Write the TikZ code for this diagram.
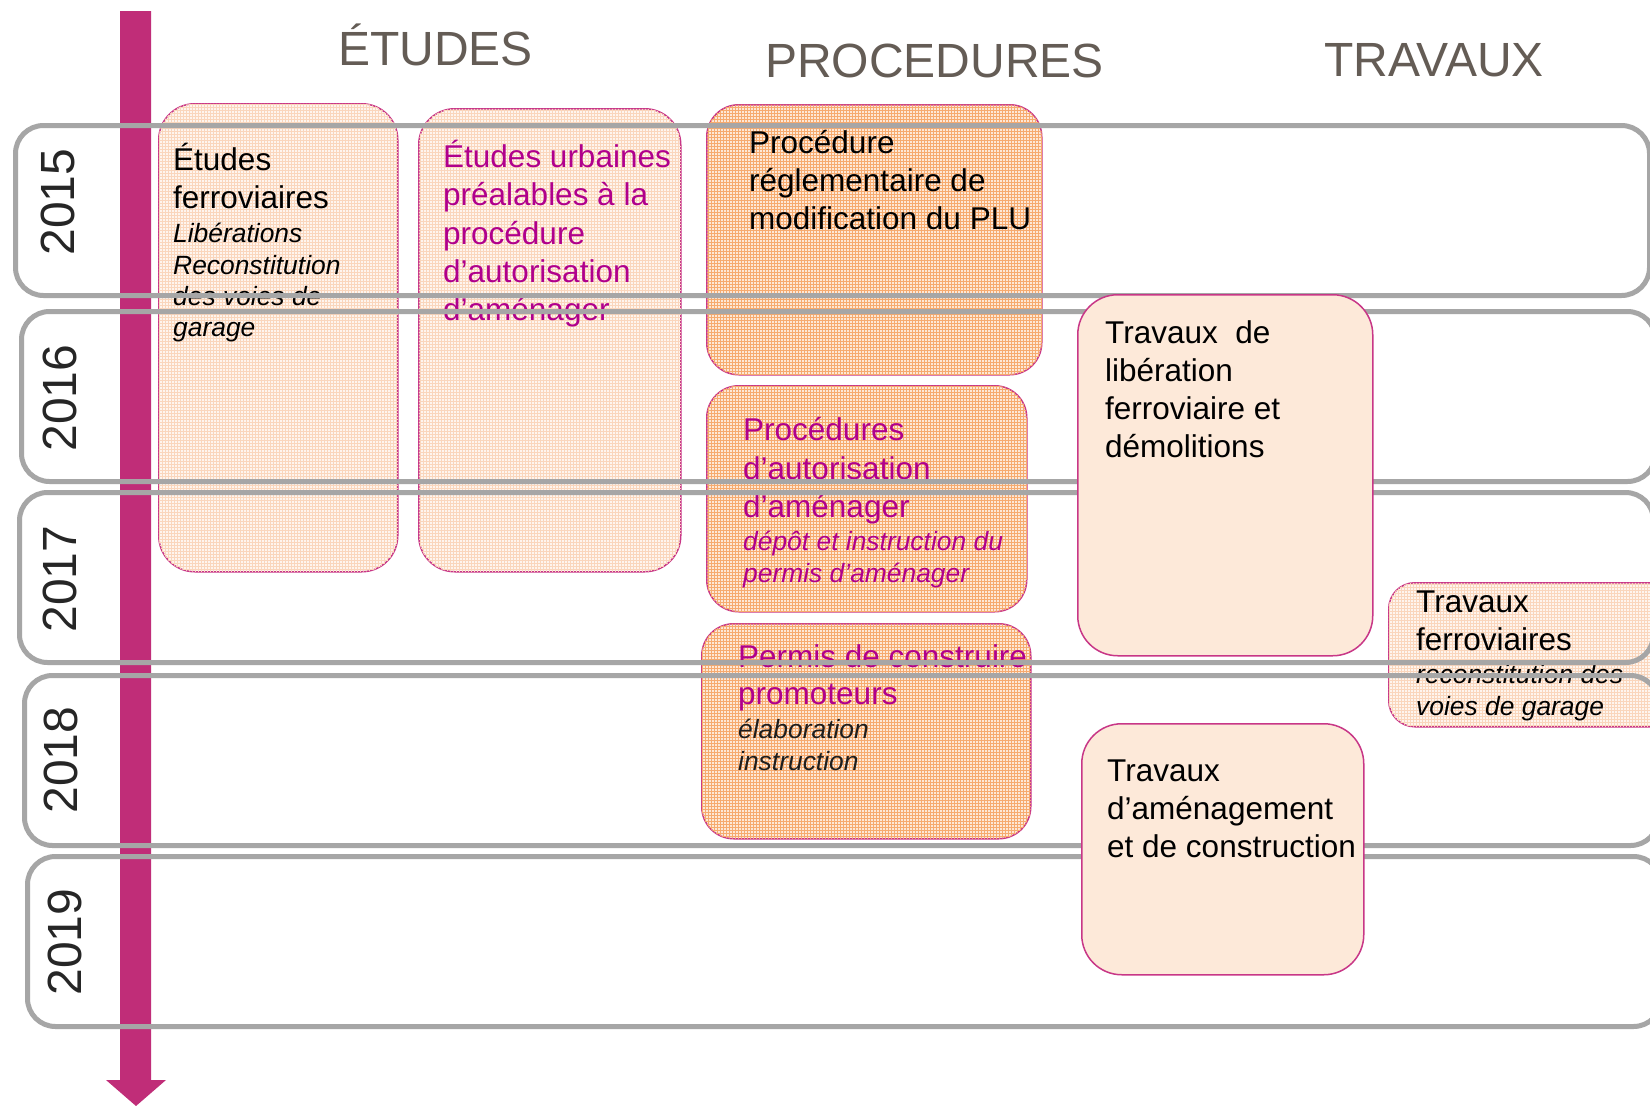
\documentclass[tikz,border=0pt]{standalone}
\usepackage{fontspec}
\setmainfont{Liberation Sans}
\usetikzlibrary{patterns}
\definecolor{arrowc}{RGB}{192,45,120}
\definecolor{bandc}{RGB}{166,166,166}
\definecolor{headc}{RGB}{100,92,85}
\definecolor{yearc}{RGB}{38,38,38}
\definecolor{magt}{RGB}{176,0,140}
\definecolor{boxborder}{RGB}{200,55,135}
\definecolor{solidfill}{RGB}{253,233,217}
\definecolor{lightbase}{RGB}{254,245,238}
\definecolor{lightgrid}{RGB}{250,214,188}
\definecolor{orbase}{RGB}{253,232,214}
\definecolor{orgrid}{RGB}{246,170,110}
\definecolor{darkt}{RGB}{30,30,30}
\begin{document}
\begin{tikzpicture}[x=1pt,y=-1pt,
  boxbase/.style={draw=boxborder, line width=1.5pt, anchor=north west, inner sep=0pt},
  lightbox/.style={boxbase, fill=lightbase, postaction={pattern=grid, pattern color=lightgrid}},
  orbox/.style={boxbase, fill=orbase, postaction={pattern=grid, pattern color=orgrid}},
  solidbox/.style={boxbase, fill=solidfill},
  bandbox/.style={draw=bandc, line width=5pt, rounded corners=28pt, anchor=north west, inner sep=0pt, minimum width=1634pt, minimum height=170pt},
  maintxt/.style={anchor=base west, inner sep=0pt, font=\fontsize{31.5}{38}\selectfont},
  itxt/.style={anchor=base west, inner sep=0pt, font=\fontsize{26.4}{32}\selectfont\itshape},
  headtxt/.style={anchor=base west, inner sep=0pt, text=headc, font=\fontsize{48}{56}\selectfont},
  yeartxt/.style={rotate=90, inner sep=0pt, text=yearc, font=\fontsize{48}{56}\selectfont}
]
\clip (0,0) rectangle (1650,1106);
\fill[white] (0,0) rectangle (1650,1106);

% timeline arrow
\fill[arrowc] (120,11) -- (151,11) -- (151,1080) -- (166,1080) -- (136,1106) -- (106,1080) -- (120,1080) -- cycle;

% patterned boxes
\node[lightbox, rounded corners=36pt, minimum width=239pt, minimum height=468pt] (b1) at (158,103) {};
\node[maintxt] (b1a) at (173,170) {Études};
\node[maintxt] (b1b) at (173,208) {ferroviaires};
\node[itxt] (b1c) at (173,242) {Libérations};
\node[itxt] (b1d) at (173,274) {Reconstitution};
\node[itxt] (b1e) at (173,305) {des voies de};
\node[itxt] (b1f) at (173,336) {garage};

\node[lightbox, rounded corners=36pt, minimum width=262pt, minimum height=463pt] (b2) at (418,108) {};
\node[maintxt, text=magt] (b2a) at (443,167) {Études urbaines};
\node[maintxt, text=magt] (b2b) at (443,205) {préalables à la};
\node[maintxt, text=magt] (b2c) at (443,244) {procédure};
\node[maintxt, text=magt] (b2d) at (443,282) {d’autorisation};
\node[maintxt, text=magt] (b2e) at (443,320) {d’aménager};

\node[orbox, rounded corners=32pt, minimum width=335pt, minimum height=270pt] (b3) at (706,104) {};
\node[maintxt] (b3a) at (749,153) {Procédure};
\node[maintxt] (b3b) at (749,191) {réglementaire de};
\node[maintxt] (b3c) at (749,229) {modification du PLU};

\node[orbox, rounded corners=32pt, minimum width=320pt, minimum height=226pt] (b4) at (706,385) {};
\node[maintxt, text=magt] (b4a) at (743,440) {Procédures};
\node[maintxt, text=magt] (b4b) at (743,479) {d’autorisation};
\node[maintxt, text=magt] (b4c) at (743,517) {d’aménager};
\node[itxt, text=magt] (b4d) at (743,550) {dépôt et instruction du};
\node[itxt, text=magt] (b4e) at (743,582) {permis d’aménager};

\node[orbox, rounded corners=32pt, minimum width=329pt, minimum height=215pt] (b5) at (701,623) {};
\node[maintxt, text=magt] (b5a) at (738,667) {Permis de construire};
\node[maintxt, text=magt] (b5b) at (738,704) {promoteurs};
\node[itxt, text=darkt] (b5c) at (738,738) {élaboration};
\node[itxt, text=darkt] (b5d) at (738,770) {instruction};

\node[lightbox, rounded corners=26pt, minimum width=300pt, minimum height=144pt] (b7) at (1388,582) {};
\node[maintxt] (b7a) at (1416,612) {Travaux};
\node[maintxt] (b7b) at (1416,650) {ferroviaires};
\node[itxt] (b7c) at (1416,683) {reconstitution des};
\node[itxt] (b7d) at (1416,715) {voies de garage};

% year bands
\node[bandbox] (y15) at (13,123) {};
\node[bandbox] (y16) at (19,309) {};
\node[bandbox] (y17) at (17,490) {};
\node[bandbox] (y18) at (22,673) {};
\node[bandbox] (y19) at (25,854) {};

% solid boxes
\node[solidbox, rounded corners=40pt, minimum width=295pt, minimum height=361pt] (b6) at (1077,294) {};
\node[maintxt] (b6a) at (1105,343) {Travaux~ de};
\node[maintxt] (b6b) at (1105,381) {libération};
\node[maintxt] (b6c) at (1105,419) {ferroviaire et};
\node[maintxt] (b6d) at (1105,457) {démolitions};

\node[solidbox, rounded corners=40pt, minimum width=282pt, minimum height=251pt] (b8) at (1081,723) {};
\node[maintxt] (b8a) at (1107,781) {Travaux};
\node[maintxt] (b8b) at (1107,819) {d’aménagement};
\node[maintxt] (b8c) at (1107,857) {et de construction};

% headings
\node[headtxt] (hE) at (338,65) {ÉTUDES};
\node[headtxt] (hP) at (765,77) {PROCEDURES};
\node[headtxt] (hT) at (1324,76) {TRAVAUX};

% years
\node[yeartxt] (t15) at (58,202) {2015};
\node[yeartxt] (t16) at (60,398) {2016};
\node[yeartxt] (t17) at (60,579) {2017};
\node[yeartxt] (t18) at (61,760) {2018};
\node[yeartxt] (t19) at (65,942) {2019};
\end{tikzpicture}
\end{document}
